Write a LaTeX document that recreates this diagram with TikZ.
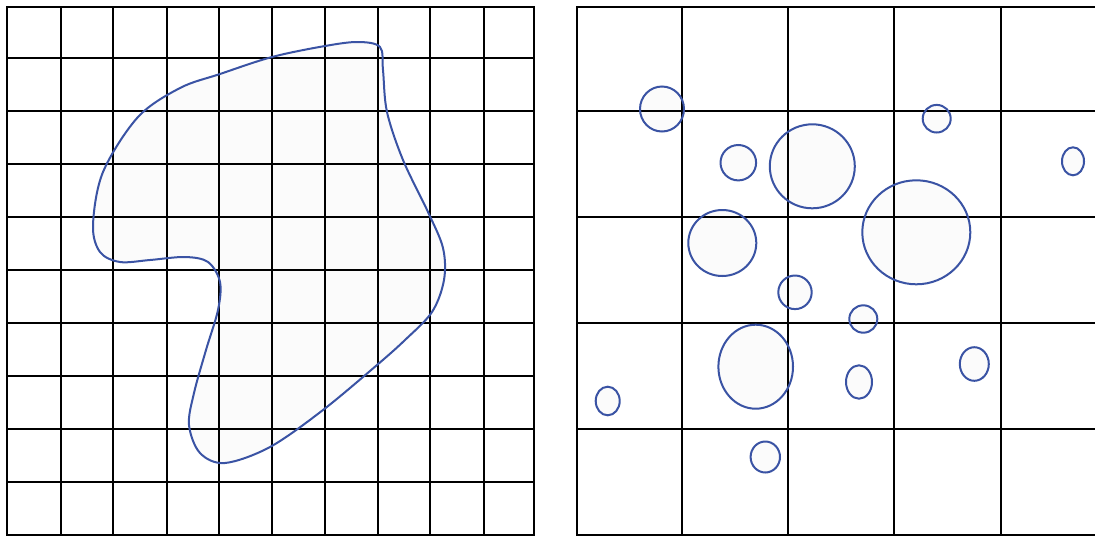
\documentclass[tikz,border=0pt]{standalone}
\definecolor{blobblue}{HTML}{3A53A4}
\definecolor{blobfill}{HTML}{FBFBFB}
\begin{document}
\begin{tikzpicture}[x=1pt,y=-1pt,
  gridline/.style={black,line width=2pt,line cap=rect},
  shapeline/.style={draw=blobblue,line width=2pt},
  shapefill/.style={fill=blobfill}]
\useasboundingbox[fill=white] (0,0) rectangle (1095,536);
\def\blob{plot[smooth cycle,tension=0.55] coordinates {(180,88) (220,74) (272,57) (325,46) (358,42) (380,47) (383,70) (387,112) (403,160) (428,212) (443,248) (444,280) (432,312) (405,340) (377,365) (323,410) (270,447) (225,463) (200,453) (189,425) (194,393) (206,350) (218,310) (220,282) (208,262) (185,257) (150,260) (120,262) (100,252) (93,225) (103,172) (138,117)}}
\def\circlist{662/109/22/22.5, 738.3/162.7/17.8/17.7, 812.3/166.3/42.5/42, 722.3/243/34/33, 795/292.3/16.7/16.8, 936.7/118.7/14/13.8, 1073/161.3/11/14, 916.3/232.3/54/52, 755.7/366.7/37.3/42, 607.7/401/12/14.3, 765.3/457/14.7/15.5, 863.3/319/14/13.7, 859/382/13/16.7, 974.3/364/14.5/16.8}
% fills
\fill[shapefill] \blob;
\foreach \cx/\cy/\rx/\ry in \circlist
  \fill[shapefill] (\cx,\cy) ellipse [x radius=\rx, y radius=\ry];
% left grid
\foreach \x in {6.5,60.7,112.7,166.7,218.7,272,325,377.7,430.3,484.3,534.3}
  \draw[gridline] (\x,6.7) -- (\x,535);
\foreach \y in {6.7,58.2,110.7,164,217,270,322.7,376,429,482,535}
  \draw[gridline] (6.5,\y) -- (534.3,\y);
% right grid
\foreach \x in {576.7,682.3,788.3,894.3,1000.7}
  \draw[gridline] (\x,6.7) -- (\x,535);
\foreach \y in {6.7,111.3,216.7,322.7,429,535}
  \draw[gridline] (576.7,\y) -- (1096,\y);
% outlines
\draw[shapeline] \blob;
\foreach \cx/\cy/\rx/\ry in \circlist
  \draw[shapeline] (\cx,\cy) ellipse [x radius=\rx, y radius=\ry];
\end{tikzpicture}
\end{document}
